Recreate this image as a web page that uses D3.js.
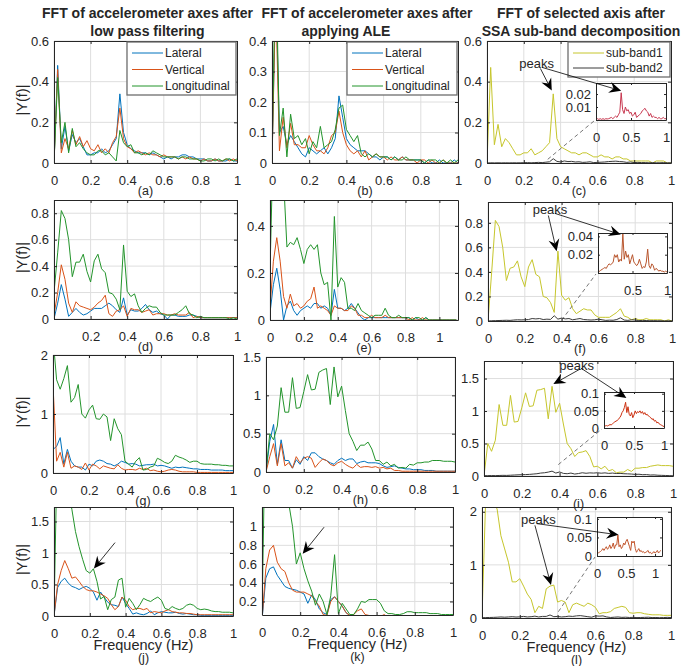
<!DOCTYPE html>
<html>
<head>
<meta charset="utf-8">
<script src="https://cdn.jsdelivr.net/npm/d3@7"></script>
<style>
  body { margin: 0; background: #fff; }
  svg text { font-family: "Liberation Sans", Arial, Helvetica, sans-serif; fill: #262626; }
</style>
</head>
<body>
<script>
// frequency grid (Hz)
const freq = [0,0.02,0.04,0.06,0.08,0.1,0.12,0.14,0.16,0.18,0.2,0.22,0.24,0.26,0.28,0.3,0.32,0.34,0.36,0.38,0.4,
  0.42,0.44,0.46,0.48,0.5,0.52,0.54,0.56,0.58,0.6,0.62,0.64,0.66,0.68,0.7,0.72,0.74,0.76,0.78,0.8,
  0.82,0.84,0.86,0.88,0.9,0.92,0.94,0.96,0.98,1];
const freqX = freq.concat([1.02,1.04,1.06,1.08,1.1]);

// (a) low pass filtered, walk 1
const aLat = [0,.48,.07,.18,.06,.14,.10,.12,.08,.04, .04,.05,.05,.07,.05,.06,.09,.12,.34,.15, .09,.07,.06,.05,.05,.05,.04,.05,.04,.03, .02,.03,.02,.03,.03,.04,.04,.03,.03,.02, .02,.02,.01,.01,.02,.01,.01,.01,.02,.01, .01];
const aVer = [0,.46,.05,.12,.07,.16,.09,.13,.08,.11, .07,.06,.09,.05,.07,.05,.10,.13,.27,.12, .08,.07,.05,.06,.05,.04,.05,.04,.04,.03, .04,.03,.03,.03,.02,.03,.02,.03,.02,.02, .01,.02,.01,.01,.02,.01,.01,.02,.01,.02, .01];
const aLon = [0,.42,.10,.20,.05,.17,.08,.10,.07,.05, .04,.04,.06,.06,.04,.05,.03,.01,.16,.10, .08,.09,.05,.05,.04,.05,.04,.06,.05,.04, .03,.03,.03,.03,.02,.03,.03,.02,.02,.02, .01,.01,.02,.02,.01,.02,.01,.02,.02,.01, .02];
// (b) after ALE
const bLat = [0,.60,.10,.12,.06,.09,.07,.05,.03,.02, .05,.04,.03,.04,.05,.03,.05,.08,.22,.15, .08,.06,.05,.04,.04,.04,.03,.02,.02,.01, .02,.02,.01,.02,.01,.02,.01,.01,.01,.01, .01,.00,.01,.00,.00,.01,.00,.00,.00,.01, .00];
const bVer = [0,.55,.04,.15,.05,.13,.06,.06,.05,.05, .09,.06,.04,.04,.03,.05,.09,.10,.17,.10, .06,.04,.03,.04,.02,.04,.01,.02,.03,.02, .02,.01,.02,.01,.01,.02,.01,.01,.01,.00, .01,.01,.00,.01,.00,.00,.01,.00,.00,.00, .00];
const bLon = [0,.70,.09,.18,.02,.16,.08,.09,.06,.08, .03,.07,.05,.12,.05,.06,.07,.11,.18,.19, .11,.09,.07,.09,.03,.02,.03,.02,.03,.02, .02,.02,.01,.02,.01,.01,.02,.01,.01,.01, .01,.00,.01,.01,.01,.00,.01,.00,.01,.00, .01];
// (c) SSA sub-bands
const cSb1 = [0,.47,.09,.19,.08,.12,.10,.07,.04,.04, .05,.05,.07,.04,.05,.06,.08,.10,.34,.12, .08,.07,.06,.05,.05,.04,.05,.05,.04,.03, .03,.04,.03,.03,.02,.03,.03,.02,.02,.01, .01,.01,.01,.01,.01,.00,.01,.01,.01,.00, .00];
const cSb2 = [0,.001,.0005,.001,.0005,.001,.0005,.001,.0008,.001, .0015,.002,.001,.002,.003,.002,.004,.006,.021,.008, .005,.010,.007,.008,.005,.006,.003,.004,.006,.002, .003,.004,.005,.007,.008,.009,.007,.006,.003,.005, .002,.003,.002,.002,.001,.002,.001,.001,.002,.001, .001];
// (d)
const dLat = [0,.12,.26,.15,.02,.05,.08,.05,.03,.04, .06,.08,.08,.08,.10,.12,.10,.07,.05,.16, .03,.07,.06,.06,.08,.11,.07,.05,.06,.04, .03,.00,.03,.03,.02,.02,.02,.03,.03,.02, .01,.01,.01,.01,.01,.01,.01,.01,.01,.01, .01];
const dVer = [.03,.20,.41,.30,.12,.05,.13,.10,.09,.08, .07,.09,.12,.14,.18,.04,.02,.06,.07,.10, .02,.08,.07,.07,.05,.06,.07,.03,.04,.04, .04,.03,.03,.04,.03,.03,.03,.05,.01,.02, .01,.01,.01,.01,.01,.01,.01,.01,.01,.01, .01];
const dLon = [.20,.50,.82,.76,.60,.32,.43,.43,.49,.36, .28,.44,.49,.38,.35,.20,.19,.15,.07,.56, .21,.17,.19,.10,.05,.08,.10,.09,.09,.05, .03,.03,.03,.03,.05,.07,.10,.04,.03,.01, .02,.01,.01,.01,.01,.01,.01,.01,.00,.01, .00];
// (e) runs to 1.1 Hz
const eLat = [.03,.15,.22,.13,.00,.06,.08,.04,.02,.04, .05,.06,.05,.07,.07,.05,.06,.05,.02,.13, .05,.05,.04,.05,.07,.05,.03,.01,.00,.01, .01,.01,.01,.01,.01,.01,.01,.01,.01,.01, .01,.01,.00,.01,.00,.00,.01,.00,.00,.00, .00,.00,.00,.00,.00,.00];
const eVer = [.05,.25,.35,.25,.10,.05,.11,.06,.07,.05, .06,.08,.09,.14,.05,.06,.05,.04,.02,.06, .05,.05,.04,.04,.06,.05,.02,.02,.01,.01, .02,.01,.01,.01,.02,.01,.01,.01,.01,.01, .01,.00,.01,.00,.00,.01,.00,.00,.00,.00, .00,.00,.00,.00,.00,.00];
const eLon = [.20,.80,.90,.70,.60,.31,.33,.32,.35,.30, .24,.30,.32,.30,.32,.20,.15,.16,.00,.44, .14,.18,.16,.05,.05,.04,.07,.04,.03,.02, .01,.02,.02,.02,.05,.02,.01,.01,.02,.01, .01,.01,.00,.01,.01,.00,.01,.00,.00,.00, .00,.00,.00,.00,.00,.00];
// (f)
const fSb1 = [0,.40,.82,.77,.60,.33,.43,.44,.49,.36, .28,.44,.50,.38,.36,.20,.19,.15,.07,.57, .21,.17,.19,.10,.06,.08,.10,.09,.09,.05, .03,.03,.03,.03,.05,.07,.10,.04,.03,.01, .02,.01,.01,.02,.01,.01,.01,.01,.00,.01, .00];
const fSb2 = [0,.002,.003,.004,.005,.006,.005,.008,.010,.009, .010,.012,.020,.017,.020,.012,.015,.013,.043,.015, .024,.017,.020,.010,.015,.020,.012,.010,.008,.010, .015,.010,.005,.007,.006,.012,.026,.008,.005,.010, .008,.003,.005,.004,.002,.003,.002,.002,.001,.002, .001];
// (g)
const gLat = [.40,.45,.60,.15,.40,.20,.12,.10,.10,.05, .15,.12,.20,.22,.20,.16,.15,.12,.15,.20, .18,.15,.16,.15,.12,.13,.14,.14,.15,.12, .13,.12,.10,.08,.10,.09,.10,.09,.08,.07, .07,.06,.06,.06,.05,.05,.05,.05,.04,.04, .04];
const gVer = [1.50,.20,.35,.10,.35,.08,.12,.10,.06,.17, .05,.15,.12,.07,.12,.10,.08,.07,.14,.08, .05,.06,.06,.05,.08,.06,.08,.04,.05,.03, .02,.03,.05,.06,.05,.03,.02,.02,.02,.02, .01,.01,.01,.01,.01,.01,.01,.01,.01,.01, .01];
const gLon = [2.30,1.58,1.42,1.60,1.82,1.20,1.28,1.50,1.00,.93, 1.07,1.15,.92,.91,1.00,.95,.55,.92,.75,.65, .20,.15,.10,.20,.26,.05,.06,.10,.12,.25, .22,.18,.16,.20,.30,.27,.25,.22,.18,.20, .20,.16,.15,.15,.15,.14,.14,.13,.13,.12, .12];
// (h)
const hLat = [0,.40,.62,.10,.42,.15,.15,.05,.16,.10, .20,.15,.25,.25,.20,.17,.15,.12,.10,.15, .18,.15,.17,.17,.11,.13,.14,.12,.12,.12, .11,.08,.06,.07,.08,.06,.05,.04,.04,.03, .03,.03,.02,.02,.02,.01,.01,.01,.01,.01, .01];
const hVer = [0,.20,.37,.08,.37,.08,.12,.05,.20,.12, .18,.20,.18,.06,.12,.17,.15,.10,.08,.12, .14,.10,.07,.05,.10,.06,.07,.07,.06,.07, .05,.06,.04,.05,.02,.02,.01,.01,.01,.01, .01,.01,.01,.01,.01,.01,.01,.01,.01,.01, .01];
const hLon = [0,.50,.42,.60,1.10,.78,.78,1.23,.83,.84, 1.05,1.27,1.07,1.08,1.30,1.33,1.35,.88,1.37,.98, 1.12,.80,.50,.40,.28,.35,.35,.39,.30,.15, .15,.10,.13,.08,.10,.05,.06,.05,.10,.09, .12,.12,.13,.13,.15,.15,.15,.14,.14,.14, .13];
// (i)
const iSb1 = [0,.50,.38,.55,1.10,.78,.78,1.24,.83,.84, 1.05,1.28,1.07,1.08,1.32,1.33,1.35,.88,1.38,.98, 1.12,.80,.50,.42,.30,.36,.37,.39,.30,.14, .15,.11,.15,.08,.10,.05,.06,.06,.10,.07, .12,.12,.13,.13,.15,.16,.17,.16,.16,.16, .15];
const iSb2 = [.005,.006,.007,.006,.008,.010,.009,.012,.015,.018, .020,.022,.025,.030,.035,.045,.050,.060,.075,.045, .062,.040,.035,.045,.030,.038,.050,.042,.048,.045, .050,.043,.048,.040,.045,.038,.040,.035,.033,.030, .025,.027,.020,.022,.015,.017,.012,.010,.008,.006, .004];
// (j)
const jLat = [0,.45,.55,.60,.52,.47,.45,.42,.45,.47, .44,.38,.25,.38,.30,.22,.18,.17,.15,.30, .20,.12,.03,.05,.03,.02,.04,.08,.02,.05, .07,.06,.05,.05,.06,.04,.03,.04,.03,.02, .02,.01,.01,.01,.01,.01,.01,.01,.01,.01, .01];
const jVer = [0,.50,.72,.88,.75,.60,.62,.55,.47,.42, .40,.40,.38,.35,.32,.28,.18,.10,.15,.30, .25,.15,.10,.12,.12,.10,.12,.05,.07,.06, .05,.08,.10,.07,.06,.05,.05,.04,.04,.03, .02,.02,.02,.02,.02,.02,.02,.02,.02,.02, .02];
const jLon = [0,3.0,2.6,2.3,2.0,1.69,1.34,1.10,.90,.72, .68,.75,.55,.27,.31,.10,.26,.30,.57,.60, .14,.28,.20,.10,.18,.28,.25,.23,.27,.30, .25,.12,.10,.15,.12,.10,.12,.17,.19,.17, .12,.10,.11,.10,.08,.07,.07,.06,.06,.06, .05];
// (k)
const kLat = [0,.45,.55,.57,.48,.42,.36,.34,.33,.32, .30,.28,.18,.27,.22,.12,.08,.06,.22,.25, .20,.15,.08,.05,.03,.04,.04,.03,.03,.03, .02,.02,.02,.02,.02,.02,.02,.02,.02,.02, .02,.02,.02,.02,.02,.02,.02,.02,.02,.02, .02];
const kVer = [0,.55,.75,.80,.62,.55,.52,.40,.32,.30, .30,.30,.28,.26,.20,.15,.06,.05,.20,.25, .20,.15,.08,.05,.06,.10,.12,.06,.05,.03, .04,.04,.06,.03,.03,.02,.02,.02,.02,.02, .02,.02,.02,.02,.02,.02,.02,.02,.02,.02, .02];
const kLon = [0,2.5,2.2,1.9,1.7,1.5,1.35,1.25,1.0,.60, .72,.55,.42,.31,.16,.28,.20,.06,.26,.70, .07,.18,.12,.06,.06,.12,.20,.19,.22,.22, .22,.18,.10,.07,.07,.06,.06,.07,.09,.09, .08,.08,.08,.08,.07,.07,.07,.06,.06,.06, .06];
// (l)
const lSb1 = [0,2.3,2.3,2.2,2.05,1.55,1.3,1.05,.68,.68, .74,.60,.45,.35,.10,.22,.18,.55,.60,.62, .30,.33,.30,.10,.25,.28,.25,.22,.28,.25, .20,.08,.10,.10,.12,.18,.20,.22,.20,.10, .09,.10,.10,.08,.07,.06,.06,.06,.05,.05, .05];
const lSb2 = [.005,.008,.010,.012,.015,.020,.015,.020,.025,.018, .022,.030,.020,.025,.035,.020,.030,.030,.057,.025, .030,.020,.025,.035,.030,.040,.045,.035,.025,.015, .040,.035,.040,.020,.010,.015,.020,.012,.015,.010, .012,.008,.010,.012,.015,.008,.010,.006,.008,.012, .008,.010,.015,.008,.012,.015];

const titles = [
  ['FFT of accelerometer axes after', 'low pass filtering'],
  ['FFT of accelerometer axes after', 'applying ALE'],
  ['FFT of selected axis after', 'SSA sub-band decomposition']
];
const xTicks = [0, 0.2, 0.4, 0.6, 0.8, 1];
const color = { lat: '#0072BD', ver: '#D95319', lon: '#23942b', sb1: '#c6c62c', sb2: '#3a3a3a' };

const W = 693, H = 666;
const svg = d3.select('body').append('svg').attr('width', W).attr('height', H);
svg.append('rect').attr('width', W).attr('height', H).attr('fill', '#fff');

const fmt = d => String(+d.toFixed(4));
let clipN = 0;

function makeAxes(box, o) {
  const [l, t, r, b] = box;
  const x = d3.scaleLinear().domain(o.xd).range([l, r]);
  const y = d3.scaleLinear().domain(o.yd).range([b, t]);
  const g = svg.append('g');
  g.append('rect').attr('x', l).attr('y', t).attr('width', r - l).attr('height', b - t).attr('fill', '#fff');
  if (o.grid) {
    g.append('g').selectAll('line').data(o.xt).join('line')
      .attr('x1', d => x(d)).attr('x2', d => x(d)).attr('y1', t).attr('y2', b)
      .attr('stroke', '#dedede');
    g.append('g').selectAll('line').data(o.yt).join('line')
      .attr('y1', d => y(d)).attr('y2', d => y(d)).attr('x1', l).attr('x2', r)
      .attr('stroke', '#dedede');
  }
  const id = 'clip' + (clipN++);
  g.append('clipPath').attr('id', id).append('rect')
    .attr('x', l).attr('y', t).attr('width', r - l).attr('height', b - t);
  const plot = g.append('g').attr('clip-path', `url(#${id})`);
  const line = d3.line().x(d => x(d[0])).y(d => y(d[1]));
  (o.series || []).forEach(([xs, ys, c]) => {
    plot.append('path').datum(d3.zip(xs, ys)).attr('d', line)
      .attr('fill', 'none').attr('stroke', c).attr('stroke-width', 1);
  });
  const xl = o.xl || o.xt, yl = o.yl || o.yt;
  const ts = o.tick || 3;
  const style = sel => sel.attr('font-size', 13).attr('font-family', null).attr('color', '#262626')
    .call(s => s.select('.domain').attr('stroke-width', 1));
  g.append('g').attr('transform', `translate(0,${b})`)
    .call(d3.axisBottom(x).tickValues(o.xt).tickSizeInner(-ts).tickSizeOuter(0).tickPadding(12.3)
      .tickFormat(d => xl.includes(d) ? fmt(d) : ''))
    .call(style);
  g.append('g').attr('transform', `translate(${l},0)`)
    .call(d3.axisLeft(y).tickValues(o.yt).tickSizeInner(-ts).tickSizeOuter(0).tickPadding(5)
      .tickFormat(d => yl.includes(d) ? fmt(d) : ''))
    .call(style);
  g.append('g').attr('transform', `translate(0,${t})`)
    .call(d3.axisTop(x).tickValues(o.xt).tickSizeInner(-ts).tickSizeOuter(0).tickFormat(''))
    .call(style);
  g.append('g').attr('transform', `translate(${r},0)`)
    .call(d3.axisRight(y).tickValues(o.yt).tickSizeInner(-ts).tickSizeOuter(0).tickFormat(''))
    .call(style);
  return { x, y, g, box };
}

function legend(box, items) {
  const [l, t, r, b] = box;
  const g = svg.append('g');
  g.append('rect').attr('x', l).attr('y', t).attr('width', r - l).attr('height', b - t)
    .attr('fill', '#fff').attr('stroke', '#6e6e6e').attr('stroke-width', 1.3);
  const rows = d3.scalePoint().domain(items.map(d => d[0])).range([t + 11, b - 9]);
  items.forEach(([name, c]) => {
    const yy = rows(name);
    g.append('line').attr('x1', l + 5).attr('x2', l + 36).attr('y1', yy).attr('y2', yy)
      .attr('stroke', c).attr('stroke-width', 1);
    g.append('text').attr('x', l + 38).attr('y', yy).attr('dy', '0.36em')
      .attr('font-size', 12).text(name);
  });
}

function arrow(p1, p2) {
  const [x1, y1] = p1, [x2, y2] = p2;
  const a = Math.atan2(y2 - y1, x2 - x1), c = Math.cos(a), s = Math.sin(a);
  const L = 12, Wd = 5.5, N = 8;
  svg.append('line').attr('x1', x1).attr('y1', y1).attr('x2', x2 - N * c).attr('y2', y2 - N * s)
    .attr('stroke', '#000').attr('stroke-width', 0.8);
  const pts = [[x2, y2], [x2 - L * c - Wd * s, y2 - L * s + Wd * c], [x2 - N * c, y2 - N * s],
    [x2 - L * c + Wd * s, y2 - L * s - Wd * c]];
  svg.append('path').attr('d', 'M' + pts.join('L') + 'Z').attr('fill', '#000');
}

function dashed(p1, p2) {
  svg.append('line').attr('x1', p1[0]).attr('y1', p1[1]).attr('x2', p2[0]).attr('y2', p2[1])
    .attr('stroke', '#555').attr('stroke-width', 0.8).attr('stroke-dasharray', '4,3');
}

function letter(ax, lab, extra) {
  const [l, , r, b] = ax.box;
  const cx = (l + r) / 2;
  let yy = b + 32;
  if (extra) {
    svg.append('text').attr('x', cx).attr('y', b + 34).attr('text-anchor', 'middle')
      .attr('font-size', 14.5).text('Frequency (Hz)');
    yy = b + 46;
  }
  svg.append('text').attr('x', cx).attr('y', yy).attr('text-anchor', 'middle')
    .attr('font-size', 12.5).text(`(${lab})`);
}

function ylabel(ax) {
  const [, t, , b] = ax.box;
  svg.append('text').attr('transform', `translate(27,${(t + b) / 2 - 2}) rotate(-90)`)
    .attr('text-anchor', 'middle').attr('font-size', 14.5).text('|Y(f)|');
}

// ---------- row 1 ----------
const pa = makeAxes([54, 41, 237, 163], { xd: [0, 1], yd: [0, 0.6], xt: xTicks, yt: [0, .2, .4, .6], grid: true,
  series: [[freq, aLat, color.lat], [freq, aVer, color.ver], [freq, aLon, color.lon]] });
const pb = makeAxes([272, 41, 458, 163], { xd: [0, 1], yd: [0, 0.4], xt: xTicks, yt: [0, .1, .2, .3, .4], grid: true,
  series: [[freq, bLat, color.lat], [freq, bVer, color.ver], [freq, bLon, color.lon]] });
const pc = makeAxes([487, 41, 671, 163], { xd: [0, 1], yd: [0, 0.6], xt: xTicks, yt: [0, .2, .4, .6], grid: true,
  series: [[freq, cSb1, color.sb1], [freq, cSb2, color.sb2]] });
// ---------- row 2 ----------
const pd = makeAxes([54, 200, 237, 319], { xd: [0, 1], yd: [0, 0.9], xt: xTicks, xl: [.2, .4, .6, .8, 1], yt: [0, .2, .4, .6, .8], grid: true,
  series: [[freq, dLat, color.lat], [freq, dVer, color.ver], [freq, dLon, color.lon]] });
const pe = makeAxes([270, 200, 458, 320], { xd: [0, 1.11], yd: [0, 0.51], xt: xTicks, yt: [0, .2, .4], grid: true,
  series: [[freqX, eLat, color.lat], [freqX, eVer, color.ver], [freqX, eLon, color.lon]] });
const pf = makeAxes([488, 202, 672, 321], { xd: [0, 1], yd: [0, 0.97], xt: xTicks, yt: [0, .2, .4, .6, .8], grid: true,
  series: [[freq, fSb1, color.sb1], [freq, fSb2, color.sb2]] });
// ---------- row 3 ----------
const pg = makeAxes([53, 355, 233, 473], { xd: [0, 1], yd: [0, 2], xt: xTicks, yt: [0, 1, 2], grid: true,
  series: [[freq, gLat, color.lat], [freq, gVer, color.ver], [freq, gLon, color.lon]] });
const ph = makeAxes([266, 357, 455, 472], { xd: [0, 1], yd: [0, 1.5], xt: xTicks, yt: [0, .5, 1, 1.5], grid: true,
  series: [[freq, hLat, color.lat], [freq, hVer, color.ver], [freq, hLon, color.lon]] });
const pi = makeAxes([484, 361, 673, 476], { xd: [0, 1], yd: [0, 1.77], xt: xTicks, yt: [0, .5, 1, 1.5], grid: true,
  series: [[freq, iSb1, color.sb1], [freq, iSb2, color.sb2]] });
// ---------- row 4 ----------
const pj = makeAxes([54, 507, 233, 616], { xd: [0, 1], yd: [0, 1.73], xt: xTicks, yt: [0, .5, 1, 1.5], grid: true,
  series: [[freq, jLat, color.lat], [freq, jVer, color.ver], [freq, jLon, color.lon]] });
const pk = makeAxes([262, 507, 453, 615], { xd: [0, 1], yd: [0.055, 1.21], xt: xTicks, yt: [.2, .4, .6, .8, 1], grid: true,
  series: [[freq, kLat, color.lat], [freq, kVer, color.ver], [freq, kLon, color.lon]] });
const pl = makeAxes([482, 507, 671, 618], { xd: [0, 1], yd: [0, 2.09], xt: xTicks, yt: [0, 1, 2], grid: true,
  series: [[freq, lSb1, color.sb1], [freqX, lSb2, color.sb2]] });

// titles
[pa, pb, pc].forEach((p, i) => {
  const [l, , r] = p.box;
  const cx = (l + r) / 2;
  svg.append('text').attr('x', cx + 2).attr('y', 18).attr('text-anchor', 'middle')
    .attr('font-size', 14).attr('font-weight', 'bold').text(titles[i][0]);
  svg.append('text').attr('x', i === 1 ? cx - 19 : cx + 2).attr('y', 36).attr('text-anchor', 'middle')
    .attr('font-size', 14).attr('font-weight', 'bold').text(titles[i][1]);
});

[[pa, 'a'], [pb, 'b'], [pc, 'c'], [pd, 'd'], [pe, 'e'], [pf, 'f'], [pg, 'g'], [ph, 'h'], [pi, 'i']]
  .forEach(([p, s]) => letter(p, s, false));
[[pj, 'j'], [pk, 'k'], [pl, 'l']].forEach(([p, s]) => letter(p, s, true));
[pa, pd, pg, pj].forEach(ylabel);

legend([127, 42, 236, 95], [['Lateral', color.lat], ['Vertical', color.ver], ['Longitudinal', color.lon]]);
legend([347, 42, 457, 95], [['Lateral', color.lat], ['Vertical', color.ver], ['Longitudinal', color.lon]]);
legend([568, 42, 670, 77], [['sub-band1', color.sb1], ['sub-band2', color.sb2]]);

// ---------- insets (sub-band2 zoomed) ----------
const insets = [
  { main: pc, box: [596, 83, 666, 120], yd: [0, 0.0285], yt: [0, .01, .02], yl: [.01, .02], xd: [0, 1], xl: [0, .5, 1],
    xs: freq, ys: cSb2, col: '#c8374f', text: [.27, .49], from: [[.29, .465], [.30, .47]], peak: [.352, .356], ipeak: [.36, .0225], dash: [.33, .018] },
  { main: pf, box: [598, 233, 667, 273], yd: [0, 0.0437], yt: [0, .02, .04], yl: [.02, .04], xd: [0, 1], xl: [.5, 1],
    xs: freq, ys: fSb2, col: '#b8552d', text: [.337, .904], from: [[.328, .86], [.364, .877]], peak: [.373, .569], ipeak: [.33, .042], dash: [.40, .006] },
  { main: pi, box: [604, 392, 664, 428], yd: [0, 0.105], yt: [0, .05, .1], yl: [0, .05, .1], xd: [0, 1], xl: [0, .5, 1],
    xs: freq, ys: iSb2, col: '#cc3010', text: [.49, 1.69], from: [[.508, 1.645], [.513, 1.66]], peak: [.367, 1.415], ipeak: [.373, .0875], dash: [.393, .175] },
  { main: pl, box: [597, 517, 662, 556], yd: [0, 0.105], yt: [0, .05, .1], yl: [0, .05, .1], xd: [0, 1.12], xl: [0, .5, 1],
    xs: freqX, ys: lSb2, col: '#c2552c', text: [.298, 1.84], from: [[.28, 1.745], [.289, 1.777]], peak: [.365, .62], ipeak: [.37, .057], dash: [.404, .118] }
];

insets.forEach(d => {
  const m = d.main;
  dashed([m.x(d.dash[0]), m.y(d.dash[1])], [d.box[0] - 2, d.box[3] + 1]);
  const ax = makeAxes(d.box, { xd: d.xd, yd: d.yd, xt: [0, .5, 1], xl: d.xl, yt: d.yt, yl: d.yl, grid: false,
    tick: 2, series: [[d.xs, d.ys, d.col]] });
  svg.append('text').attr('x', m.x(d.text[0])).attr('y', m.y(d.text[1])).attr('dy', '0.32em')
    .attr('text-anchor', 'middle').attr('font-size', 13).text('peaks');
  arrow([m.x(d.from[0][0]), m.y(d.from[0][1])], [m.x(d.peak[0]), m.y(d.peak[1])]);
  arrow([m.x(d.from[1][0]), m.y(d.from[1][1])], [ax.x(d.ipeak[0]), ax.y(d.ipeak[1])]);
});

// arrows pointing at the knee in (j) and (k)
const knees = [
  { p: pj, from: [.341, 1.165], to: [.223, .754] },
  { p: pk, from: [.325, .994], to: [.213, .709] }
];
knees.forEach(k => arrow([k.p.x(k.from[0]), k.p.y(k.from[1])], [k.p.x(k.to[0]), k.p.y(k.to[1])]));
</script>
</body>
</html>
